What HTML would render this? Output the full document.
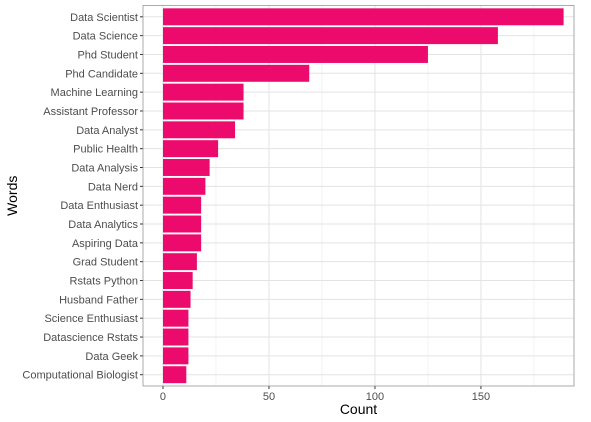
<!DOCTYPE html>
<html><head><meta charset="utf-8"><style>
body{margin:0;background:#fff;}
svg{display:block;font-family:"Liberation Sans",Arial,sans-serif;}
</style></head><body>
<svg id="chart" width="591" height="422"></svg>
<script>
const categories=["Data Scientist","Data Science","Phd Student","Phd Candidate","Machine Learning","Assistant Professor","Data Analyst","Public Health","Data Analysis","Data Nerd","Data Enthusiast","Data Analytics","Aspiring Data","Grad Student","Rstats Python","Husband Father","Science Enthusiast","Datascience Rstats","Data Geek","Computational Biologist"];
const counts=[189,158,125,69,38,38,34,26,22,20,18,18,18,16,14,13,12,12,12,11];
const xTicks=[0,50,100,150];
const xMinor=[25,75,125,175];
const NS="http://www.w3.org/2000/svg";
const svg=document.getElementById('chart');
const L=143,R=574,T=5.5,B=386;
const xmin=-9.43,xmax=193.9;
const x=v=>L+(v-xmin)/(xmax-xmin)*(R-L);
const step=(B-T)/(categories.length+0.2);
const y=i=>T+step*0.6+i*step;
function mk(t,a){const e=document.createElementNS(NS,t);for(const k in a)e.setAttribute(k,a[k]);svg.appendChild(e);return e;}
let e=mk('rect',{x:L,y:T,width:R-L,height:B-T,fill:'#fff'});


xMinor.forEach(v=>{const g=mk('line',{x1:x(v),x2:x(v),y1:T,y2:B,stroke:'#ebebeb','stroke-width':0.6});

});
xTicks.forEach(v=>{const g=mk('line',{x1:x(v),x2:x(v),y1:T,y2:B,stroke:'#e3e3e3','stroke-width':1});


mk('line',{x1:x(v),x2:x(v),y1:B,y2:B+3,stroke:'#333'});
const t=mk('text',{x:x(v),y:B+14,'text-anchor':'middle','font-size':11,fill:'#4d4d4d'});t.textContent=v;

});
categories.forEach((c,i)=>{const g=mk('line',{x1:L,x2:R,y1:y(i),y2:y(i),stroke:'#e3e3e3','stroke-width':1});

});
categories.forEach((c,i)=>{const h=step*0.9;
const b=mk('rect',{x:x(0),y:y(i)-h/2,width:x(counts[i])-x(0),height:h,fill:'#EC0B6D'});


mk('line',{x1:L-3,x2:L,y1:y(i),y2:y(i),stroke:'#333'});
const t=mk('text',{x:L-5,y:y(i)+4,'text-anchor':'end','font-size':11,fill:'#4d4d4d'});t.textContent=c;

});
e=mk('rect',{x:L,y:T,width:R-L,height:B-T,fill:'none',stroke:'#888','stroke-width':0.7});


e=mk('text',{x:(L+R)/2,y:414,'text-anchor':'middle','font-size':14,fill:'#000'});e.textContent='Count';


e=mk('text',{x:17,y:(T+B)/2,'text-anchor':'middle','font-size':14,fill:'#000',transform:`rotate(-90 17 ${(T+B)/2})`});e.textContent='Words';


</script>
</body></html>
